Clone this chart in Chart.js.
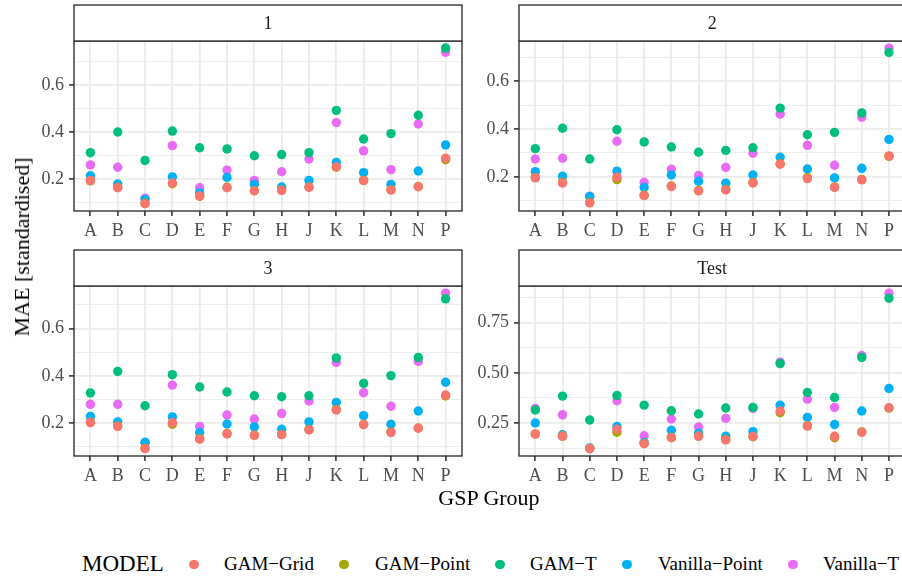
<!DOCTYPE html>
<html>
<head>
<meta charset="utf-8">
<script src="https://cdn.jsdelivr.net/npm/chart.js@4.4.1/dist/chart.umd.min.js"></script>
<style>
  body { margin: 0; width: 902px; height: 580px; overflow: hidden; background: #fff; position: relative; font-family: "Liberation Serif", serif; }
  canvas { position: absolute; }
  #ytitle { position: absolute; left: 22px; top: 247px; transform: translate(-50%, -50%) rotate(-90deg); font-size: 22px; white-space: nowrap; color: #000; }
  #xtitle { position: absolute; left: 489px; top: 487px; transform: translateX(-50%); font-size: 22px; line-height: 22px; white-space: nowrap; color: #000; }
  .leg { position: absolute; top: 552px; height: 24px; line-height: 24px; white-space: nowrap; color: #000; }
  .legtitle { font-size: 23px; }
  .leglab { font-size: 19px; }
  .legdot { position: absolute; top: 559.5px; width: 9.4px; height: 9.4px; border-radius: 50%; }
</style>
</head>
<body>
<canvas id="c1" width="470" height="245" style="left:0;top:0"></canvas>
<canvas id="c2" width="470" height="245" style="left:440px;top:0"></canvas>
<canvas id="c3" width="470" height="245" style="left:0;top:245px"></canvas>
<canvas id="c4" width="470" height="245" style="left:440px;top:245px"></canvas>
<div id="ytitle">MAE [standardised]</div>
<div id="xtitle">GSP Group</div>
<div class="leg legtitle" style="left:82px">MODEL</div>

<script>
// GSP groups on the x axis
const groups = ["A", "B", "C", "D", "E", "F", "G", "H", "J", "K", "L", "M", "N", "P"];
const models = ["GAM−Grid", "GAM−Point", "GAM−T", "Vanilla−Point", "Vanilla−T"];
const colours = ["#F8766D", "#A3A500", "#00BF7D", "#00B0F6", "#E76BF3"];

// panel "1"
const p1Grid     = [0.194, 0.163, 0.095, 0.183, 0.128, 0.163, 0.150, 0.152, 0.165, 0.252, 0.193, 0.153, 0.167, 0.289];
const p1Point    = [0.192, 0.165, 0.097, 0.180, 0.127, 0.165, 0.150, 0.153, 0.166, 0.250, 0.195, 0.155, 0.168, 0.282];
const p1GamT     = [0.312, 0.400, 0.279, 0.404, 0.333, 0.328, 0.299, 0.304, 0.312, 0.492, 0.370, 0.393, 0.471, 0.757];
const p1VanPoint = [0.214, 0.179, 0.113, 0.209, 0.142, 0.207, 0.177, 0.166, 0.194, 0.270, 0.227, 0.177, 0.234, 0.345];
const p1VanT     = [0.260, 0.250, 0.118, 0.342, 0.163, 0.238, 0.194, 0.231, 0.285, 0.440, 0.320, 0.240, 0.434, 0.739];

// panel "2"
const p2Grid     = [0.196, 0.175, 0.092, 0.199, 0.122, 0.160, 0.142, 0.146, 0.175, 0.253, 0.193, 0.156, 0.188, 0.288];
const p2Point    = [0.198, 0.177, 0.094, 0.189, 0.124, 0.162, 0.144, 0.148, 0.177, 0.255, 0.197, 0.158, 0.190, 0.286];
const p2GamT     = [0.318, 0.403, 0.275, 0.397, 0.346, 0.325, 0.303, 0.311, 0.322, 0.487, 0.376, 0.386, 0.467, 0.719];
const p2VanPoint = [0.222, 0.203, 0.118, 0.224, 0.156, 0.208, 0.182, 0.174, 0.208, 0.282, 0.233, 0.196, 0.236, 0.356];
const p2VanT     = [0.275, 0.278, 0.120, 0.349, 0.178, 0.232, 0.206, 0.240, 0.299, 0.462, 0.332, 0.249, 0.449, 0.737];

// panel "3"
const p3Grid     = [0.203, 0.187, 0.093, 0.203, 0.133, 0.155, 0.149, 0.152, 0.172, 0.256, 0.194, 0.161, 0.179, 0.319];
const p3Point    = [0.205, 0.189, 0.095, 0.196, 0.135, 0.157, 0.150, 0.153, 0.174, 0.258, 0.196, 0.163, 0.180, 0.315];
const p3GamT     = [0.328, 0.419, 0.274, 0.405, 0.353, 0.332, 0.316, 0.312, 0.316, 0.476, 0.368, 0.401, 0.478, 0.725];
const p3VanPoint = [0.229, 0.206, 0.120, 0.227, 0.161, 0.197, 0.185, 0.175, 0.206, 0.288, 0.232, 0.196, 0.252, 0.373];
const p3VanT     = [0.280, 0.280, 0.118, 0.361, 0.187, 0.235, 0.218, 0.241, 0.294, 0.457, 0.329, 0.272, 0.461, 0.749];

// panel "Test"
const tGrid     = [0.195, 0.184, 0.122, 0.219, 0.147, 0.177, 0.184, 0.166, 0.184, 0.310, 0.235, 0.184, 0.204, 0.326];
const tPoint    = [0.196, 0.186, 0.124, 0.204, 0.149, 0.179, 0.186, 0.168, 0.182, 0.301, 0.237, 0.177, 0.206, 0.324];
const tGamT     = [0.315, 0.384, 0.265, 0.387, 0.339, 0.311, 0.295, 0.325, 0.328, 0.546, 0.402, 0.377, 0.576, 0.871];
const tVanPoint = [0.250, 0.192, 0.126, 0.233, 0.154, 0.214, 0.199, 0.185, 0.207, 0.339, 0.278, 0.243, 0.310, 0.422];
const tVanT     = [0.323, 0.291, 0.124, 0.361, 0.187, 0.270, 0.230, 0.273, 0.323, 0.553, 0.369, 0.328, 0.586, 0.896];

// y axis limits per panel (free y scales)
const yLimits1 = [0.064, 0.787];
const yLimits2 = [0.058, 0.767];
const yLimits3 = [0.062, 0.779];
const yLimitsT = [0.086, 0.932];

// legend key positions (dot centre, label left)
const legendDotX = [194, 344, 500, 627, 793];
const legendLabX = [224, 375, 530, 658, 823];

const tickFont = { family: "'Liberation Serif', serif", size: 18 };

// strip on top + panel border, like theme_bw
const facetPlugin = {
  id: "facet",
  afterDraw(chart) {
    const a = chart.chartArea;
    const ctx = chart.ctx;
    const w = a.right - a.left;
    ctx.save();
    ctx.strokeStyle = "#333333";
    ctx.lineWidth = 1.4;
    ctx.strokeRect(a.left, a.top, w, a.bottom - a.top);
    ctx.fillStyle = "#ffffff";
    ctx.fillRect(a.left, 5, w, a.top - 5);
    ctx.strokeRect(a.left, 5, w, a.top - 5);
    ctx.fillStyle = "#1A1A1A";
    ctx.font = "18px 'Liberation Serif', serif";
    ctx.textAlign = "center";
    ctx.textBaseline = "middle";
    ctx.fillText(chart.options.plugins.facet.label, a.left + w / 2, 5 + (a.top - 5) / 2 + 1);
    ctx.restore();
  }
};

function makePanel(id, label, series, limits, step, decimals, axisWidth, padRight) {
  const isMajor = v => Math.round(v / step) % 2 === 0;
  const datasets = series.map((vals, m) => ({
    label: models[m],
    data: vals.map((v, i) => ({ x: i, y: v })),
    showLine: false,
    pointRadius: 4.7,
    pointBorderWidth: 0,
    pointBackgroundColor: colours[m],
    borderColor: colours[m],
    clip: false
  }));

  return new Chart(document.getElementById(id), {
    type: "line",
    data: { datasets },
    plugins: [facetPlugin],
    options: {
      responsive: false,
      animation: false,
      layout: { padding: { top: 41, right: padRight, left: 0, bottom: 0 } },
      plugins: { legend: { display: false }, tooltip: { enabled: false }, facet: { label } },
      scales: {
        x: {
          type: "linear",
          min: -0.6,
          max: 13.6,
          afterBuildTicks: s => { s.ticks = groups.map((g, i) => ({ value: i })); },
          afterFit: s => { s.height = 34; },
          ticks: { callback: v => groups[v], font: tickFont, color: "#4D4D4D", padding: 4, autoSkip: false, maxRotation: 0 },
          grid: { color: "#EBEBEB", lineWidth: 1.8, tickLength: 5, tickColor: "#333333", tickWidth: 1.6 },
          border: { display: false }
        },
        y: {
          type: "linear",
          min: limits[0],
          max: limits[1],
          afterBuildTicks: s => {
            const t = [];
            for (let k = Math.ceil(limits[0] / step); k * step <= limits[1]; k++) t.push({ value: k * step });
            s.ticks = t;
          },
          afterFit: s => { s.width = axisWidth; },
          ticks: {
            callback: v => (isMajor(v) ? v.toFixed(decimals) : ""),
            font: tickFont, color: "#4D4D4D", padding: 5
          },
          grid: {
            color: "#EBEBEB",
            lineWidth: c => (isMajor(c.tick.value) ? 1.8 : 0.9),
            tickLength: 5,
            tickColor: c => (isMajor(c.tick.value) ? "#333333" : "rgba(0,0,0,0)"),
            tickWidth: 1.6
          },
          border: { display: false }
        }
      }
    }
  });
}

makePanel("c1", "1", [p1Grid, p1Point, p1GamT, p1VanPoint, p1VanT], yLimits1, 0.1, 1, 74, 8);
makePanel("c2", "2", [p2Grid, p2Point, p2GamT, p2VanPoint, p2VanT], yLimits2, 0.1, 1, 79, 4);
makePanel("c3", "3", [p3Grid, p3Point, p3GamT, p3VanPoint, p3VanT], yLimits3, 0.1, 1, 74, 8);
makePanel("c4", "Test", [tGrid, tPoint, tGamT, tVanPoint, tVanT], yLimitsT, 0.125, 2, 79, 4);

// legend along the bottom
models.forEach((m, i) => {
  const dot = document.createElement("div");
  dot.className = "legdot";
  dot.style.left = (legendDotX[i] - 4.7) + "px";
  dot.style.background = colours[i];
  document.body.appendChild(dot);
  const lab = document.createElement("div");
  lab.className = "leg leglab";
  lab.style.left = legendLabX[i] + "px";
  lab.textContent = m;
  document.body.appendChild(lab);
});
</script>
</body>
</html>
